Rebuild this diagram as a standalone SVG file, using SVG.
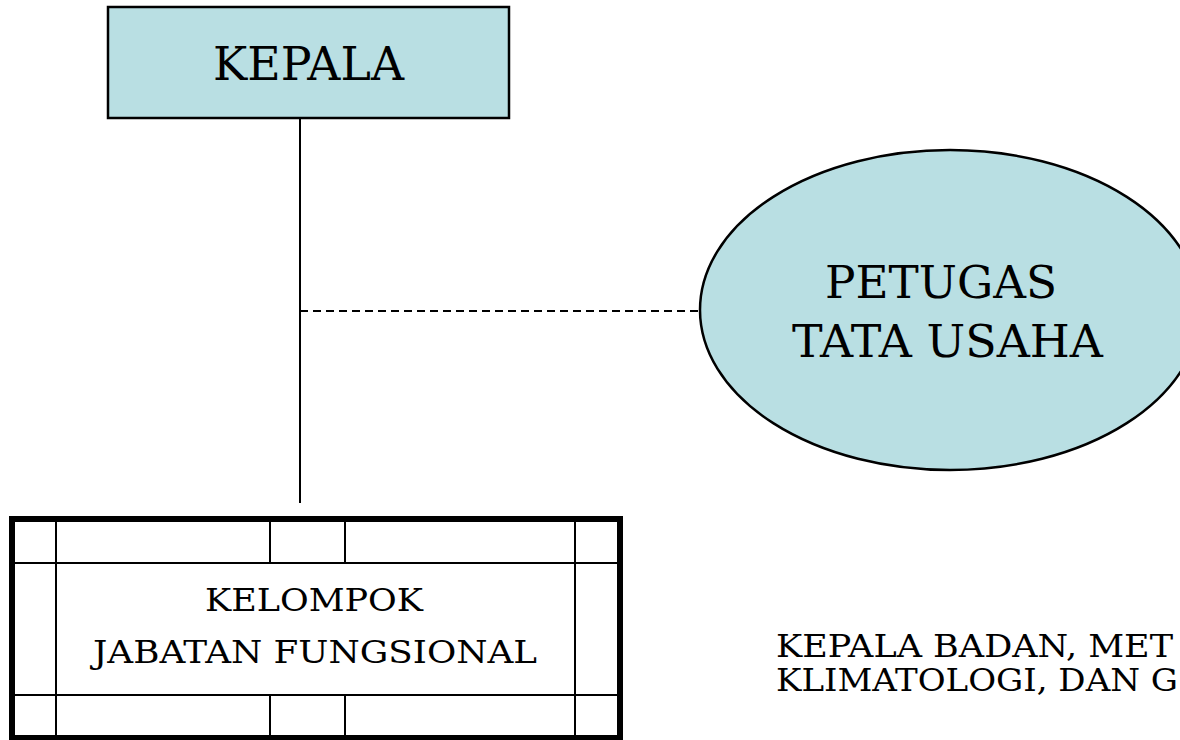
<svg xmlns="http://www.w3.org/2000/svg" width="1180" height="740" viewBox="0 0 1180 740">
<style>
.t{font-family:"DejaVu Serif","Liberation Serif",serif;fill:#000}
.fill{fill:#b9dfe3;stroke:#000}
.thin{stroke:#000;stroke-width:2;fill:none}
</style>
<rect width="1180" height="740" fill="#fff"/>
<g id="connectors">
<line x1="300" y1="118" x2="300" y2="503" stroke="#000" stroke-width="2"/>
<line x1="300" y1="311" x2="700" y2="311" stroke="#000" stroke-width="2" stroke-dasharray="8 5"/>
</g>
<g id="kepala">
<rect x="108" y="7" width="401" height="111" class="fill" stroke-width="2.5"/>
<text class="t" x="213" y="80" font-size="46" textLength="191" lengthAdjust="spacingAndGlyphs">KEPALA</text>
</g>
<g id="petugas">
<ellipse cx="950" cy="310" rx="250" ry="160" class="fill" stroke-width="2.5"/>
<text class="t" x="825" y="298" font-size="45" textLength="232" lengthAdjust="spacingAndGlyphs">PETUGAS</text>
<text class="t" x="792" y="357" font-size="45" textLength="311" lengthAdjust="spacingAndGlyphs">TATA USAHA</text>
</g>
<g id="kelompok">
<rect x="12" y="519" width="608" height="219" fill="#fff" stroke="#000" stroke-width="6"/>
<line x1="56" y1="519" x2="56" y2="738" class="thin"/>
<line x1="575" y1="519" x2="575" y2="738" class="thin"/>
<line x1="270" y1="519" x2="270" y2="563" class="thin"/>
<line x1="345" y1="519" x2="345" y2="563" class="thin"/>
<line x1="270" y1="695" x2="270" y2="738" class="thin"/>
<line x1="345" y1="695" x2="345" y2="738" class="thin"/>
<line x1="12" y1="563" x2="620" y2="563" class="thin"/>
<line x1="12" y1="695" x2="620" y2="695" class="thin"/>
<text class="t" x="205" y="611" font-size="32" textLength="218" lengthAdjust="spacingAndGlyphs">KELOMPOK</text>
<text class="t" x="93" y="663" font-size="32" textLength="444" lengthAdjust="spacingAndGlyphs">JABATAN FUNGSIONAL</text>
</g>
<g id="caption">
<text class="t" x="776" y="657" font-size="31" textLength="397" lengthAdjust="spacingAndGlyphs">KEPALA BADAN, MET</text>
<text class="t" x="776" y="691" font-size="31" textLength="402" lengthAdjust="spacingAndGlyphs">KLIMATOLOGI, DAN G</text>
</g>
</svg>
